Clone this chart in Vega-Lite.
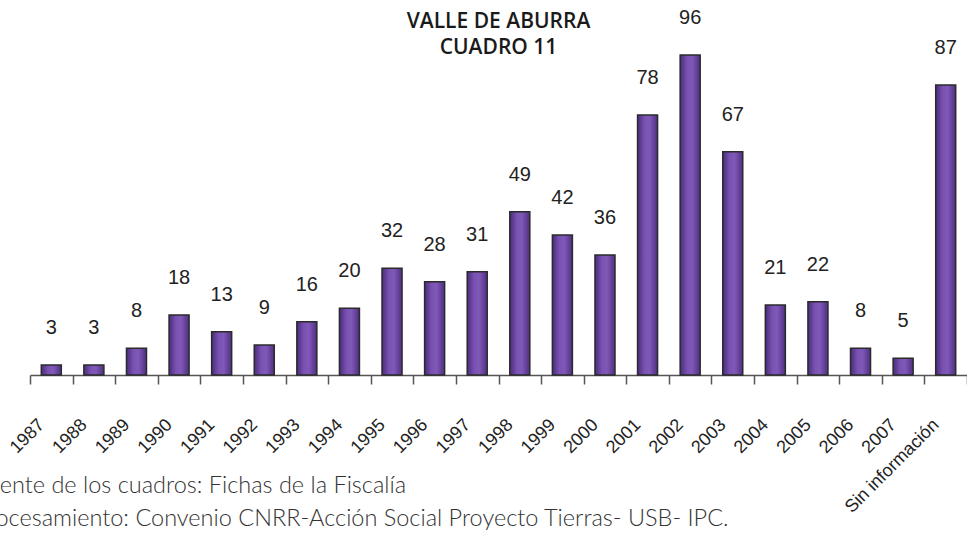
{
  "$schema": "https://vega.github.io/schema/vega-lite/v6.json",
  "width": 937,
  "height": 375,
  "autosize": "none",
  "padding": {"left": 30, "top": 0, "right": 0, "bottom": 165},
  "background": "white",
  "config": {"view": {"stroke": null}},
  "title": {
    "text": ["VALLE DE ABURRA", "CUADRO 11"],
    "font": "Open Sans",
    "fontSize": 21,
    "fontWeight": 600,
    "color": "#1a1a1a",
    "lineHeight": 26,
    "anchor": "middle",
    "frame": "group",
    "offset": -58
  },
  "data": {
    "values": [
      {"cat": "1987", "v": 3},
      {"cat": "1988", "v": 3},
      {"cat": "1989", "v": 8},
      {"cat": "1990", "v": 18},
      {"cat": "1991", "v": 13},
      {"cat": "1992", "v": 9},
      {"cat": "1993", "v": 16},
      {"cat": "1994", "v": 20},
      {"cat": "1995", "v": 32},
      {"cat": "1996", "v": 28},
      {"cat": "1997", "v": 31},
      {"cat": "1998", "v": 49},
      {"cat": "1999", "v": 42},
      {"cat": "2000", "v": 36},
      {"cat": "2001", "v": 78},
      {"cat": "2002", "v": 96},
      {"cat": "2003", "v": 67},
      {"cat": "2004", "v": 21},
      {"cat": "2005", "v": 22},
      {"cat": "2006", "v": 8},
      {"cat": "2007", "v": 5},
      {"cat": "Sin información", "v": 87}
    ]
  },
  "encoding": {
    "x": {
      "field": "cat",
      "type": "ordinal",
      "sort": null,
      "scale": {"paddingInner": 0, "paddingOuter": 0},
      "axis": {
        "tickBand": "extent",
        "domainColor": "#555555",
        "domainWidth": 1.5,
        "tickColor": "#555555",
        "tickWidth": 1.5,
        "tickSize": 9,
        "labelAngle": -45,
        "labelAlign": "right",
        "labelBaseline": "middle",
        "labelFont": "Liberation Sans",
        "labelFontSize": 18,
        "labelColor": "#222222",
        "labelPadding": 38,
        "labelOffset": -10,
        "title": ["Fuente de los cuadros: Fichas de la Fiscalía", "Procesamiento: Convenio CNRR-Acción Social Proyecto Tierras- USB- IPC."],
        "titleFont": "Lato",
        "titleFontWeight": 300,
        "titleFontSize": 23.5,
        "titleColor": "#333333",
        "titleAnchor": "start",
        "titleAlign": "left",
        "titleBaseline": "top",
        "titleX": -56,
        "titleY": 98,
        "titleLineHeight": 33
      }
    },
    "y": {
      "field": "v",
      "type": "quantitative",
      "scale": {"domain": [0, 112.5], "nice": false, "zero": true},
      "axis": null
    }
  },
  "layer": [
    {
      "mark": {
        "type": "bar",
        "width": {"band": 0.47},
        "stroke": "#2b2b2b",
        "strokeWidth": 1.5,
        "color": {
          "gradient": "linear",
          "x1": 0, "x2": 1, "y1": 0, "y2": 0,
          "stops": [
            {"offset": 0, "color": "#4a2b7d"},
            {"offset": 0.35, "color": "#7a52b2"},
            {"offset": 0.6, "color": "#8058b7"},
            {"offset": 1, "color": "#4f2f82"}
          ]
        }
      }
    },
    {
      "mark": {
        "type": "text",
        "dy": -37,
        "baseline": "middle",
        "align": "center",
        "font": "Liberation Sans",
        "fontSize": 20,
        "color": "#222222"
      },
      "encoding": {"text": {"field": "v", "type": "quantitative"}}
    }
  ]
}
